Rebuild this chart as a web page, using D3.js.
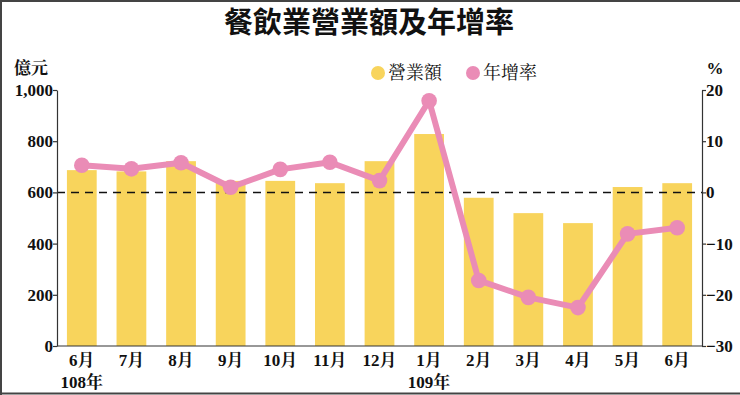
<!DOCTYPE html>
<html><head><meta charset="utf-8">
<script src="https://cdn.jsdelivr.net/npm/d3@7"></script>
<style>
body{margin:0;background:#fff;}
svg{display:block;}
</style></head>
<body>
<svg id="chart" width="740" height="395"></svg>
<script>
const months = ["6月","7月","8月","9月","10月","11月","12月","1月","2月","3月","4月","5月","6月"];
const yearLabels = ["108年","","","","","","","109年","","","","",""];
const revenue = [687, 682, 722, 645, 645, 636, 722, 828, 579, 519, 480, 621, 636];
const growth = [5.3, 4.6, 5.8, 1.0, 4.5, 5.9, 2.3, 17.9, -17.2, -20.5, -22.5, -8.1, -6.9];
const leftTicks = [0, 200, 400, 600, 800, 1000];
const rightTicks = [-30, -20, -10, 0, 10, 20];

(function(){
const svg = d3.select("#chart");
const W = 740, H = 395;
const pL = 57, pR = 702, pT = 90, pB = 346;
const serif = "'Liberation Serif','Times New Roman','Noto Serif CJK TC','Noto Sans CJK TC',serif";
const barColor = "#F8D45C", lineColor = "#EA8CB6";

// border
svg.append("line").attr("x1",0).attr("x2",W).attr("y1",1).attr("y2",1).attr("stroke","#444").attr("stroke-width",2);
svg.append("line").attr("x1",1).attr("x2",1).attr("y1",0).attr("y2",H).attr("stroke","#444").attr("stroke-width",2);
svg.append("line").attr("x1",0).attr("x2",W).attr("y1",393.5).attr("y2",393.5).attr("stroke","#444").attr("stroke-width",2);

// title
svg.append("text").attr("x",369).attr("y",33).attr("text-anchor","middle")
  .attr("font-family","'Noto Sans CJK TC','Noto Sans',sans-serif").attr("font-weight","bold")
  .attr("font-size",29).attr("fill","#111").text("餐飲業營業額及年增率");

const x = d3.scaleBand().domain(d3.range(months.length)).range([pL,pR]).paddingInner(0.4).paddingOuter(0.2);
const yL = d3.scaleLinear().domain([0,1000]).range([pB,pT]);
const yR = d3.scaleLinear().domain([-30,20]).range([pB,pT]);

// bars
svg.append("g").selectAll("rect").data(revenue).join("rect")
  .attr("x",(d,i)=>x(i)).attr("width",x.bandwidth())
  .attr("y",d=>yL(d)).attr("height",d=>pB-yL(d)).attr("fill",barColor);

// dashed zero line
svg.append("line").attr("x1",pL).attr("x2",pR).attr("y1",yR(0)).attr("y2",yR(0))
  .attr("stroke","#111").attr("stroke-width",1.5).attr("stroke-dasharray","8,6");

// axes
const axL = svg.append("g").attr("transform",`translate(${pL},0)`)
  .call(d3.axisLeft(yL).tickValues(leftTicks).tickSize(4).tickSizeOuter(0).tickFormat(d3.format(",")));
const axR = svg.append("g").attr("transform",`translate(${pR},0)`)
  .call(d3.axisRight(yR).tickValues(rightTicks).tickSize(4).tickSizeOuter(0));
[axL,axR].forEach(a=>{
  a.select(".domain").attr("stroke","#333").attr("stroke-width",1.2);
  a.selectAll(".tick line").attr("stroke","#333").attr("stroke-width",1.2);
  a.selectAll(".tick text").attr("font-family",serif).attr("font-weight","bold")
    .attr("font-size",17).attr("fill","#111");
});
axL.selectAll(".tick text").attr("x",-4);
axR.selectAll(".tick text").attr("x",4);
svg.append("line").attr("x1",pL).attr("x2",pR).attr("y1",pB).attr("y2",pB)
  .attr("stroke","#333").attr("stroke-width",1.2);

// x labels
const xl = svg.append("g");
xl.selectAll("text.m").data(months).join("text").attr("class","m")
  .attr("x",(d,i)=>x(i)+x.bandwidth()/2).attr("y",366).attr("text-anchor","middle")
  .attr("font-family",serif).attr("font-weight","bold").attr("font-size",17).attr("fill","#111").text(d=>d);
xl.selectAll("text.y").data(yearLabels).join("text").attr("class","y")
  .attr("x",(d,i)=>x(i)+x.bandwidth()/2).attr("y",388).attr("text-anchor","middle")
  .attr("font-family",serif).attr("font-weight","bold").attr("font-size",17).attr("fill","#111").text(d=>d);

// axis unit labels
svg.append("text").attr("x",31).attr("y",74).attr("text-anchor","middle")
  .attr("font-family",serif).attr("font-weight","bold").attr("font-size",17).attr("fill","#111").text("億元");
svg.append("text").attr("x",715).attr("y",74).attr("text-anchor","middle")
  .attr("font-family",serif).attr("font-weight","bold").attr("font-size",17).attr("fill","#111").text("%");

// line
const line = d3.line().x((d,i)=>x(i)+x.bandwidth()/2).y(d=>yR(d));
svg.append("path").datum(growth).attr("d",line).attr("fill","none")
  .attr("stroke",lineColor).attr("stroke-width",6).attr("stroke-linejoin","round");
svg.append("g").selectAll("circle").data(growth).join("circle")
  .attr("cx",(d,i)=>x(i)+x.bandwidth()/2).attr("cy",d=>yR(d)).attr("r",7.8).attr("fill",lineColor);

// legend
const legend = [{t:"營業額",c:barColor,x:378},{t:"年增率",c:lineColor,x:473}];
const lg = svg.append("g").selectAll("g").data(legend).join("g");
lg.append("circle").attr("cx",d=>d.x).attr("cy",73).attr("r",7).attr("fill",d=>d.c);
lg.append("text").attr("x",d=>d.x+10).attr("y",79).attr("font-family",serif)
  .attr("font-size",18).attr("fill","#111").text(d=>d.t);
})();
</script>
</body></html>
